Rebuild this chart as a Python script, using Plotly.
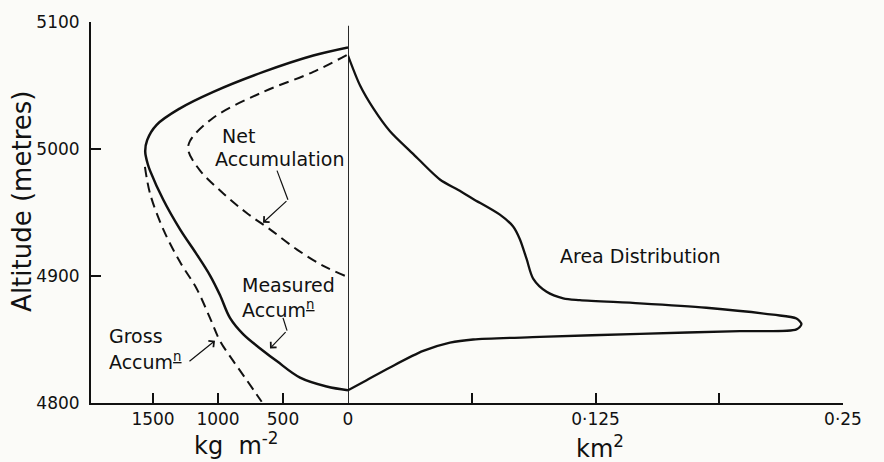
import plotly.graph_objects as go

# ---- data ----
meas_kg = [0, 267, 651, 1036, 1292, 1472, 1545, 1560, 1540, 1523, 1421, 1292, 1170, 1062, 985, 908, 805, 651, 548, 369, 164, 0]
meas_alt = [5080, 5073.6, 5060.7, 5045, 5032, 5019, 5007, 4998, 4988, 4983, 4960, 4936.7, 4918, 4900.5, 4885, 4867, 4854, 4841, 4833, 4820, 4813, 4810]

net_kg = [10, 267, 651, 1036, 1215, 1228, 1138, 959, 779, 600, 395, 190, 20]
net_alt = [5074, 5060.7, 5045, 5024.6, 5006.4, 4998.7, 4983, 4965, 4949.6, 4936.7, 4921, 4908, 4900]

gross_kg = [1562, 1523, 1421, 1292, 1164, 1062, 985, 882, 779, 664]
gross_alt = [4986, 4965, 4936.7, 4911, 4890, 4867, 4849, 4833, 4818, 4801]

area_km2 = [0, 0.0061, 0.0128, 0.0212, 0.033, 0.0464, 0.0557, 0.0632, 0.0767, 0.0834, 0.0868, 0.0902,
            0.0935, 0.1003, 0.1087, 0.1171, 0.1474, 0.181, 0.2147, 0.2265, 0.229, 0.2265, 0.1979,
            0.1474, 0.0969, 0.0632, 0.0515, 0.038, 0.0212, 0.0094, 0]
area_alt = [5073.6, 5050, 5032, 5014, 4996, 4976, 4967.7, 4960.7, 4948.3, 4939, 4929, 4913.4,
            4898, 4887.6, 4882.4, 4881, 4878.5, 4875, 4869.5, 4866.5, 4862, 4858, 4856.6,
            4854.5, 4852, 4850, 4847.5, 4841, 4828, 4818, 4810]

kg_ticks = [1500, 1000, 500, 0]
kg_labels = ["1500", "1000", "500", "0"]
km_ticks = [0, 0.0625, 0.125, 0.1875, 0.25]
km_labels = ["", "", "0·125", "", "0·25"]
alt_ticks = [4800, 4900, 5000, 5100]

FONT = "DejaVu Sans"
BG = "#fbfbf8"
INK = "#111111"

fig = go.Figure()
fig.add_trace(go.Scatter(x=meas_kg, y=meas_alt, mode="lines", xaxis="x", yaxis="y",
                         line=dict(color=INK, width=2.5, shape="spline", smoothing=1.0)))
fig.add_trace(go.Scatter(x=net_kg, y=net_alt, mode="lines", xaxis="x", yaxis="y",
                         line=dict(color=INK, width=2.0, dash="10px,6px", shape="spline", smoothing=1.0)))
fig.add_trace(go.Scatter(x=gross_kg, y=gross_alt, mode="lines", xaxis="x", yaxis="y",
                         line=dict(color=INK, width=2.0, dash="10px,6px", shape="spline", smoothing=1.0)))
fig.add_trace(go.Scatter(x=area_km2, y=area_alt, mode="lines", xaxis="x2", yaxis="y",
                         line=dict(color=INK, width=2.3, shape="spline", smoothing=0.8)))

split = 257 / 752
axis_common = dict(showgrid=False, zeroline=False, showline=True, linecolor=INK, linewidth=2,
                   ticks="inside", ticklen=10, tickwidth=1.6, tickcolor=INK,
                   tickfont=dict(family=FONT, size=17, color=INK))

fig.update_layout(
    width=884, height=462,
    margin=dict(l=91, r=41, t=16, b=59),
    paper_bgcolor=BG, plot_bgcolor=BG,
    showlegend=False,
    font=dict(family=FONT, color=INK),
    xaxis=dict(domain=[0, split], range=[1977, 0], tickvals=kg_ticks, ticktext=kg_labels,
               anchor="y", **axis_common),
    xaxis2=dict(domain=[split, 1], range=[0, 0.25], tickvals=km_ticks, ticktext=km_labels,
                anchor="y", **axis_common),
    yaxis=dict(range=[4800, 5100], tickvals=alt_ticks, ticklabelstandoff=6, **axis_common),
)

# vertical zero line between panels
fig.add_shape(type="line", xref="x2", yref="y", x0=0, x1=0, y0=4800, y1=5097,
              line=dict(color=INK, width=1.8))

lab = dict(family=FONT, size=19, color=INK)
ann = []
# curve labels
ann.append(dict(x=985, y=5010, xref="x", yref="y", text="Net", showarrow=False, xanchor="left", font=lab))
ann.append(dict(x=1038, y=4992, xref="x", yref="y", text="Accumulation", showarrow=False, xanchor="left", font=lab))
ann.append(dict(x=831, y=4893, xref="x", yref="y", text="Measured", showarrow=False, xanchor="left", font=lab))
ann.append(dict(x=831, y=4874, xref="x", yref="y", text="Accum<sup><u>n</u></sup>", showarrow=False, xanchor="left", font=lab))
ann.append(dict(x=1854, y=4853, xref="x", yref="y", text="Gross", showarrow=False, xanchor="left", font=lab))
ann.append(dict(x=1854, y=4833, xref="x", yref="y", text="Accum<sup><u>n</u></sup>", showarrow=False, xanchor="left", font=lab))
ann.append(dict(x=0.106, y=4916, xref="x2", yref="y", text="Area Distribution", showarrow=False, xanchor="left", font=lab))

# arrows
arrow = dict(showarrow=True, arrowhead=4, arrowsize=1.3, arrowwidth=1.2, arrowcolor=INK, text="",
             xref="x", yref="y", axref="x", ayref="y")
ann.append(dict(x=654, y=4942, ax=462, ay=4960, **arrow))
ann.append(dict(x=600, y=4843, ax=469, ay=4857, **arrow))
ann.append(dict(x=1023, y=4849, ax=1231, ay=4832, **arrow))
fig.add_shape(type="line", xref="x", yref="y", x0=546, y0=4983, x1=462, y1=4960, line=dict(color=INK, width=1.2))
fig.add_shape(type="line", xref="x", yref="y", x0=500, y0=4867, x1=469, y1=4857, line=dict(color=INK, width=1.2))

# axis titles
ann.append(dict(x=0.194, y=-0.108, xref="paper", yref="paper", text="kg  m<sup>-2</sup>", showarrow=False,
                xanchor="center", yanchor="middle", font=dict(family=FONT, size=24, color=INK)))
ann.append(dict(x=0.677, y=-0.116, xref="paper", yref="paper", text="km<sup>2</sup>", showarrow=False,
                xanchor="center", yanchor="middle", font=dict(family=FONT, size=24, color=INK)))
ann.append(dict(x=-0.092, y=0.53, xref="paper", yref="paper", text="Altitude (metres)", showarrow=False,
                textangle=-90, xanchor="center", yanchor="middle", font=dict(family=FONT, size=26, color=INK)))

fig.update_layout(annotations=ann)
fig.write_html("out.html")
